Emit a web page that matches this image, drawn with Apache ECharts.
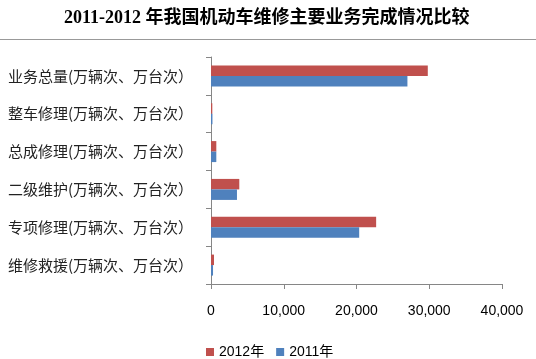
<!DOCTYPE html>
<html><head><meta charset="utf-8">
<script src="https://cdn.jsdelivr.net/npm/echarts@6/dist/echarts.min.js"></script>
<style>html,body{margin:0;padding:0;background:#fff}#c{width:536px;height:359px}</style>
</head><body><div id="c"></div>
<script>
var categories = ['业务总量(万辆次、万台次）','整车修理(万辆次、万台次）','总成修理(万辆次、万台次）','二级维护(万辆次、万台次）','专项修理(万辆次、万台次）','维修救援(万辆次、万台次）'];
var values2012 = [29800, 180, 730, 3890, 22700, 410];
var values2011 = [27000, 200, 730, 3570, 20370, 280];
var xTicks = [0, 10000, 20000, 30000, 40000];

var chart = echarts.init(document.getElementById('c'));
chart.setOption({
  animation: false,
  title: {
    text: '2011-2012 年我国机动车维修主要业务完成情况比较',
    left: 59, top: 4,
    textStyle: {fontSize: 18, fontWeight: 'bold', color: '#000', fontFamily: '"Liberation Serif","Noto Sans CJK SC",serif'}
  },
  graphic: [{type: 'line', shape: {x1: 0, y1: 39.5, x2: 536, y2: 39.5}, style: {stroke: '#999', lineWidth: 1}}],
  legend: {
    data: ['2012年', '2011年'],
    left: 201, top: 340, itemWidth: 8, itemHeight: 8, itemGap: 12,
    icon: 'rect',
    textStyle: {fontSize: 14, color: '#000', fontFamily: '"Liberation Sans","Noto Sans CJK SC",sans-serif'}
  },
  grid: {left: 211, right: 34, top: 57, bottom: 75, containLabel: false},
  xAxis: {
    type: 'value', min: 0, max: 40000, interval: 10000,
    axisLine: {show: true, lineStyle: {color: '#868686'}},
    axisTick: {show: true, length: 5, lineStyle: {color: '#868686'}},
    splitLine: {show: false},
    axisLabel: {margin: 20, fontSize: 14, color: '#000', fontFamily: '"Liberation Sans",sans-serif',
      formatter: function (v) { return v.toLocaleString('en-US'); }}
  },
  yAxis: {
    type: 'category', data: categories, inverse: true,
    axisLine: {show: true, lineStyle: {color: '#868686'}},
    axisTick: {show: true, length: 5, lineStyle: {color: '#868686'}},
    axisLabel: {margin: 18, fontSize: 15, color: '#222', fontFamily: '"Noto Sans CJK SC",sans-serif'}
  },
  series: [
    {name: '2012年', type: 'bar', data: values2012, barWidth: 10.5, barGap: '0%', itemStyle: {color: '#C0504D'}},
    {name: '2011年', type: 'bar', data: values2011, barWidth: 10.5, barGap: '0%', itemStyle: {color: '#4F81BD'}}
  ]
});
</script></body></html>
